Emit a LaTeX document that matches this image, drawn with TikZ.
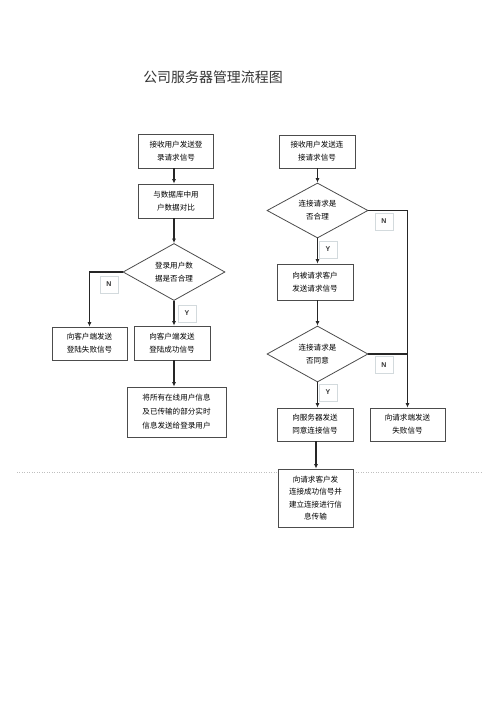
\documentclass[tikz,border=0pt]{standalone}
\usepackage{fontspec}
\newfontfamily\cjk{Noto Sans CJK SC}
\setsansfont{Liberation Sans}
\usetikzlibrary{shapes.geometric,arrows.meta}
\tikzset{
  box/.style={draw=black!70, line width=0.8bp, fill=white, inner sep=1bp,
    align=center, font=\cjk\fontsize{7.6}{13}\selectfont},
  dia/.style={draw=black!70, line width=0.8bp, fill=white, diamond, aspect=1.8,
    inner sep=0bp, align=center, font=\cjk\fontsize{7.6}{13}\selectfont},
  lbl/.style={draw=cyan!25!black!20, line width=0.5bp, fill=white, minimum width=18bp,
    minimum height=17bp, inner sep=0bp, font=\sffamily\bfseries\fontsize{7}{8}\selectfont, text=black!80},
  arr/.style={draw=black!85, line width=1.1bp, -{Latex[length=4.5bp,width=4bp]}},
  ln/.style={draw=black!85, line width=1.1bp}
}
\begin{document}
\begin{tikzpicture}[x=1bp,y=-1bp]
\useasboundingbox (0,0) rectangle (500,708);
\draw[black!25, line width=0.5bp, dotted] (17,472) -- (483,472);
\node[font=\cjk\fontsize{14}{16}\selectfont, text=black!80] (title) at (213,77) {公司服务器管理流程图};
% left column
\node[box, minimum width=75bp, minimum height=34bp] (b1) at (176,151) {接收用户发送登\\录请求信号};
\node[box, minimum width=75bp, minimum height=34bp] (b2) at (176,201) {与数据库中用\\户数据对比};
\node[dia, minimum width=102bp, minimum height=57bp] (d1) at (174,272) {登录用户数\\据是否合理};
\node[box, minimum width=75bp, minimum height=33bp] (bf) at (89.5,343.5) {向客户端发送\\登陆失败信号};
\node[box, minimum width=76bp, minimum height=34bp] (bo) at (172,343) {向客户端发送\\登陆成功信号};
\node[box, minimum width=99bp, minimum height=50bp, font=\cjk\fontsize{7.6}{14}\selectfont] (bl) at (176.5,412) {将所有在线用户信息\\及已传输的部分实时\\信息发送给登录用户};
\draw[arr] (b1.south -| 174,0) -- (b2.north -| 174,0);
\draw[arr] (b2.south -| 174,0) -- (d1.north);
\draw[arr] (d1.west) -| (bf.north);
\draw[arr] (d1.south) -- (d1.south |- bo.north);
\draw[arr] (bo.south -| 174,0) -- (bl.north -| 174,0);
\node[lbl] (n1) at (109,284.5) {N};
\node[lbl] (y1) at (187,313.5) {Y};
% right column
\node[box, minimum width=76bp, minimum height=33bp] (r1) at (317,151.5) {接收用户发送连\\接请求信号};
\node[dia, minimum width=101bp, minimum height=55bp] (d2) at (317.5,210.5) {连接请求是\\否合理};
\node[box, minimum width=76bp, minimum height=36bp] (r2) at (315,282) {向被请求客户\\发送请求信号};
\node[dia, minimum width=101bp, minimum height=56bp] (d3) at (317.5,354) {连接请求是\\否同意};
\node[box, minimum width=76bp, minimum height=33bp] (r3) at (315,424.5) {向服务器发送\\同意连接信号};
\node[box, minimum width=75bp, minimum height=33bp] (r4) at (407.5,424.5) {向请求端发送\\失败信号};
\node[box, minimum width=75bp, minimum height=58bp, font=\cjk\fontsize{7.6}{12.5}\selectfont] (r5) at (315.5,498) {向请求客户发\\连接成功信号并\\建立连接进行信\\息传输};
\draw[arr] (r1.south -| d2.north) -- (d2.north);
\draw[arr] (d2.south) -- (d2.south |- r2.north);
\draw[arr] (r2.south -| d3.north) -- (d3.north);
\draw[arr] (d3.south) -- (d3.south |- r3.north);
\draw[arr] (d2.east) -| (r4.north);
\draw[ln] (d3.east) -- (d3.east -| r4.north);
\draw[arr] (r3.south -| 316,0) -- (r5.north -| 316,0);
\node[lbl] (n2) at (384,221.5) {N};
\node[lbl] (y2) at (328,249.5) {Y};
\node[lbl] (n3) at (384,365) {N};
\node[lbl] (y3) at (328,392.5) {Y};
\end{tikzpicture}
\end{document}
